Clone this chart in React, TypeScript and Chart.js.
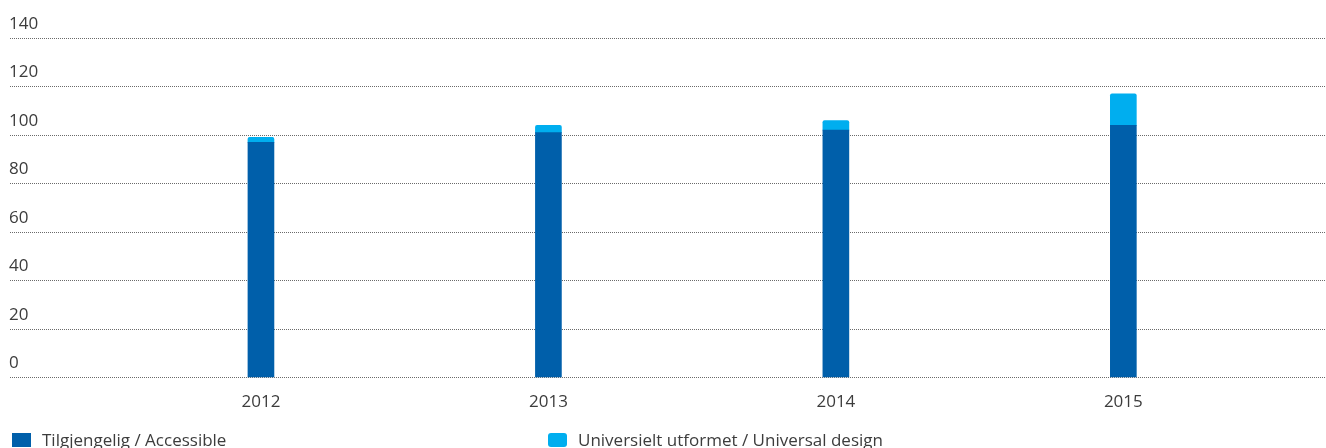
import React, { useEffect, useRef } from "react";
import { Chart, registerables } from "chart.js";

Chart.register(...registerables);

const categories = ["2012", "2013", "2014", "2015"];
const accessible = [97, 101, 102, 104];
const universal = [2, 3, 4, 13];
const yTicks = [0, 20, 40, 60, 80, 100, 120, 140];
const seriesNames = ["Tilgjengelig / Accessible", "Universielt utformet / Universal design"];

const DARK = "#005faa";
const LIGHT = "#00aeef";
const TEXT = "#3c3c3c";
const FONT = "'Open Sans', 'Noto Sans', sans-serif";

export default function App() {
  const ref = useRef<HTMLCanvasElement | null>(null);

  useEffect(() => {
    document.body.style.margin = "0";
    const canvas = ref.current;
    if (!canvas) return;
    const chart = new Chart(canvas, {
      type: "bar",
      data: {
        datasets: [
          {
            label: seriesNames[0],
            data: accessible.map((v, i) => ({ x: i, y: v })),
            backgroundColor: DARK,
            barThickness: 26,
          },
          {
            label: seriesNames[1],
            data: universal.map((v, i) => ({ x: i, y: v })),
            backgroundColor: LIGHT,
            barThickness: 26,
            borderRadius: { topLeft: 2, topRight: 2, bottomLeft: 0, bottomRight: 0 },
            borderSkipped: false,
          },
        ],
      },
      options: {
        responsive: false,
        animation: false,
        maintainAspectRatio: false,
        layout: { padding: { top: 38, left: 10, right: 0, bottom: 10 } },
        plugins: { legend: { display: false }, tooltip: { enabled: false } },
        scales: {
          x: {
            type: "linear",
            stacked: true,
            offset: false,
            min: -0.873,
            max: 3.705,
            afterFit: (scale: any) => {
              scale.paddingLeft = 0;
              scale.paddingRight = 0;
            },
            grid: { display: false, drawTicks: false },
            border: { display: false },
            ticks: {
              stepSize: 1,
              autoSkip: false,
              maxRotation: 0,
              padding: 14,
              color: TEXT,
              font: { family: FONT, size: 17 },
              callback: (value: any) => {
                const n = Number(value);
                return Number.isInteger(n) && categories[n] !== undefined ? categories[n] : "";
              },
            },
          },
          y: {
            stacked: true,
            min: 0,
            max: 140,
            afterFit: (scale: any) => {
              scale.width = 0;
            },
            afterBuildTicks: (scale: any) => {
              scale.ticks = yTicks.map((v) => ({ value: v }));
            },
            border: { display: false, dash: [1, 1] },
            grid: {
              color: "#6a6a6a",
              lineWidth: 1,
              drawTicks: false,
            },
            ticks: {
              mirror: true,
              padding: -1,
              labelOffset: -14,
              color: TEXT,
              font: { family: FONT, size: 17 },
            },
          },
        },
      },
    } as any);
    return () => chart.destroy();
  }, []);

  const legendItem = (color: string, label: string, radius: number) => (
    <div style={{ width: 536, display: "flex", alignItems: "center" }}>
      <span
        style={{
          display: "inline-block",
          width: 19,
          height: 14,
          background: color,
          borderRadius: radius,
          marginRight: 11,
        }}
      />
      <span style={{ fontFamily: FONT, fontSize: 17, color: TEXT }}>{label}</span>
    </div>
  );

  return (
    <div style={{ position: "relative", width: 1326, height: 448, overflow: "hidden" }}>
      <canvas ref={ref} width={1326} height={436} style={{ position: "absolute", left: 0, top: 0 }} />
      <div style={{ position: "absolute", left: 12, top: 428, display: "flex" }}>
        {legendItem(DARK, seriesNames[0], 0)}
        {legendItem(LIGHT, seriesNames[1], 3)}
      </div>
    </div>
  );
}
